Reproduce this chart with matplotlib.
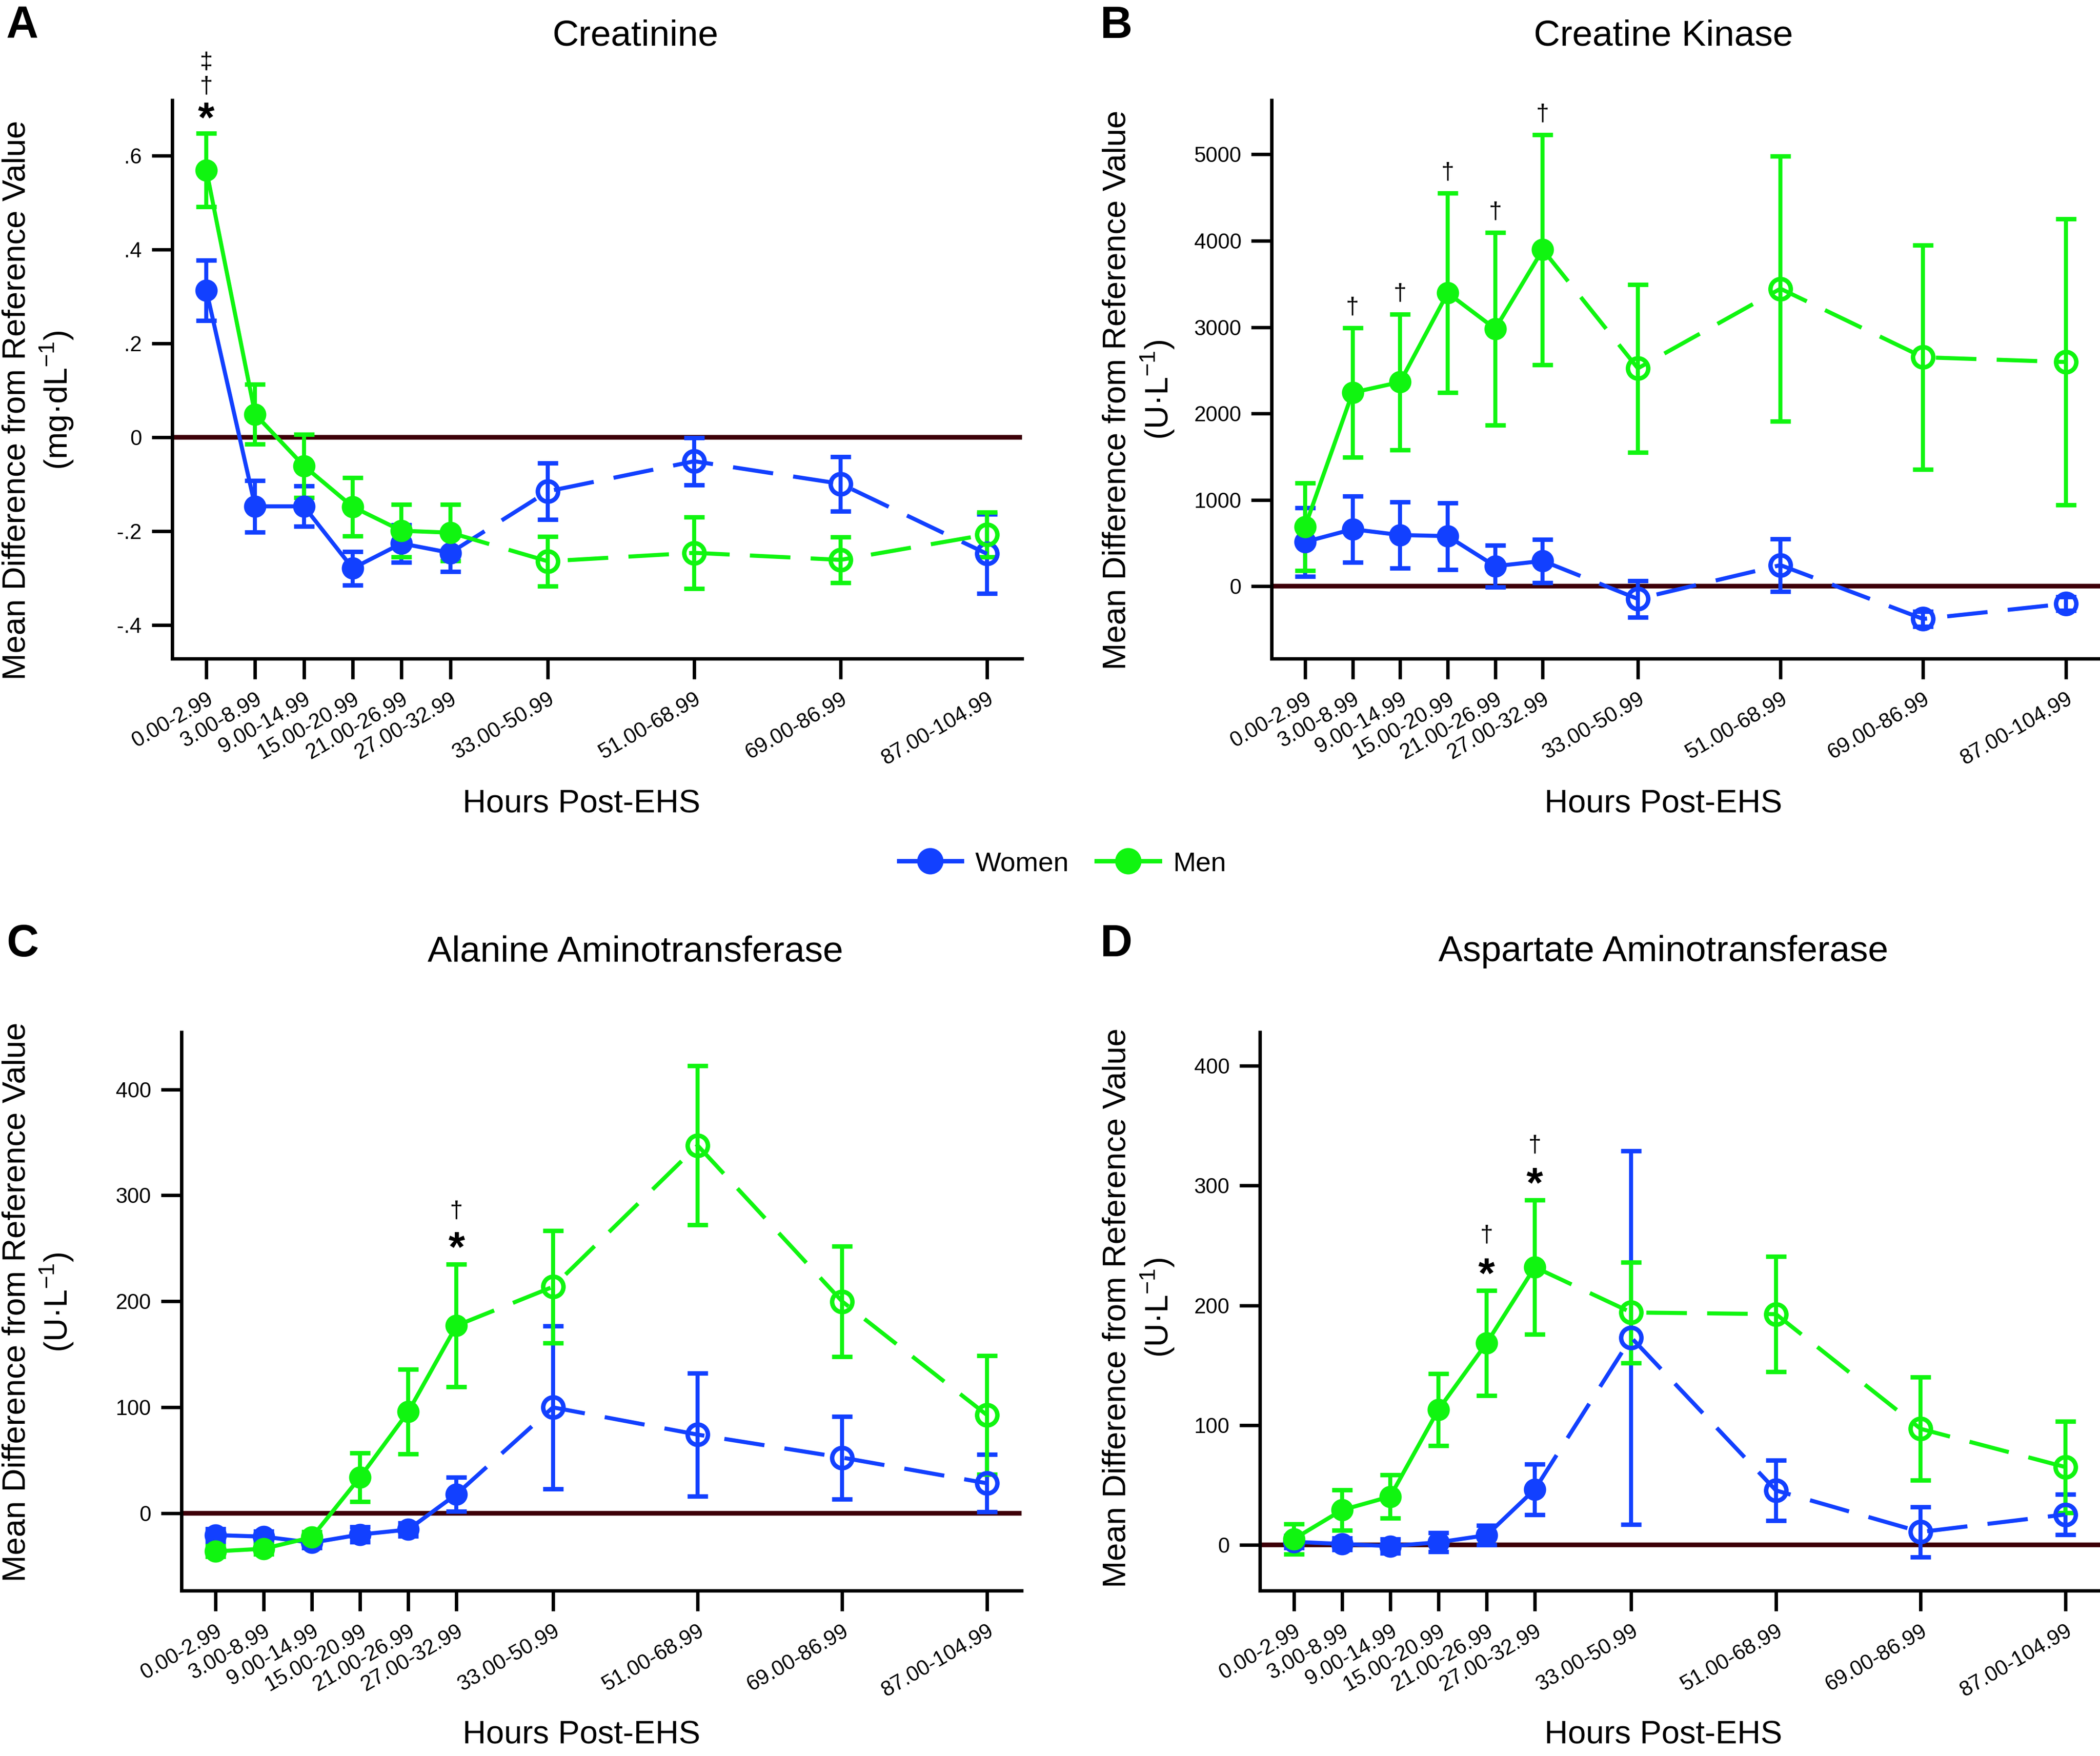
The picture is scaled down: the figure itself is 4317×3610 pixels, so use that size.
import matplotlib
matplotlib.use("Agg")
import matplotlib.pyplot as plt
from matplotlib.lines import Line2D

plt.rcParams['font.family'] = ['Liberation Sans', 'DejaVu Sans']
plt.rcParams['mathtext.fontset'] = 'custom'
plt.rcParams['mathtext.rm'] = 'Liberation Sans'

#categories
hours = ['0.00-2.99', '3.00-8.99', '9.00-14.99', '15.00-20.99', '21.00-26.99',
         '27.00-32.99', '33.00-50.99', '51.00-68.99', '69.00-86.99', '87.00-104.99']
xpos = [0, 1, 2, 3, 4, 5, 7, 10, 13, 16]

#creatinine (mg/dL)
crea_w    = [0.313, -0.147, -0.147, -0.279, -0.226, -0.246, -0.115, -0.051, -0.099, -0.248]
crea_w_se = [0.064, 0.055, 0.043, 0.036, 0.040, 0.040, 0.060, 0.050, 0.058, 0.084]
crea_m    = [0.569, 0.049, -0.061, -0.148, -0.199, -0.203, -0.264, -0.246, -0.261, -0.207]
crea_m_se = [0.078, 0.064, 0.067, 0.062, 0.056, 0.060, 0.053, 0.076, 0.049, 0.048]

#creatine kinase (U/L)
ck_w    = [513, 660, 593, 580, 232, 293, -147, 244, -379, -202]
ck_w_se = [397, 382, 382, 385, 244, 250, 210, 305, 86, 77]
ck_m    = [690, 2242, 2364, 3396, 2981, 3897, 2523, 3445, 2651, 2596]
ck_m_se = [507, 751, 788, 1155, 1115, 1331, 971, 1533, 1301, 1655]

#alanine aminotransferase (U/L)
alt_w    = [-20.6, -22.1, -27.8, -20.1, -15.4, 18.0, 99.9, 74.2, 52.5, 28.3]
alt_w_se = [6, 5, 5, 7, 6, 16, 77, 58, 39, 27]
alt_m    = [-36.0, -33.5, -22.7, 34.0, 95.8, 177.1, 213.7, 347.1, 199.8, 92.7]
alt_m_se = [5, 5, 5, 23, 40, 58, 53, 75, 52, 56]

#aspartate aminotransferase (U/L)
ast_w    = [2.7, 0.9, -0.9, 2.3, 8.2, 46.5, 173.1, 45.6, 10.9, 25.5]
ast_w_se = [5, 5, 6, 8, 8, 21, 156, 25, 21, 17]
ast_m    = [5.0, 29.2, 40.5, 113.0, 168.6, 231.9, 194.1, 192.7, 97.0, 65.1]
ast_m_se = [12.5, 17, 18, 30, 44, 56, 42, 48, 43, 38]

#significance marks (index, symbols)
crea_sig = [(0, '*†‡')]
ck_sig = [(1, '†'), (2, '†'), (3, '†'), (4, '†'), (5, '†')]
alt_sig = [(5, '*†')]
ast_sig = [(4, '*†'), (5, '*†')]

BLUE = '#1240ff'
GREEN = '#10f510'
ZERO = '#3d0008'

fig = plt.figure(figsize=(4317/300, 3610/300), dpi=300)

def panel(rect, w, w_se, m, m_se, ylim, yticks, ylabels, title, unit, sig,
          letter, letter_xy, title_xy, ylab_x, ylab_y, xlab_xy, star_off, dag_off):
    ax = fig.add_axes(rect)
    ax.axhline(0, color=ZERO, lw=2.3, zorder=1)
    for mean, se, col in ((w, w_se, BLUE), (m, m_se, GREEN)):
        ax.errorbar(xpos, mean, yerr=se, fmt='none', ecolor=col, elinewidth=2,
                    capsize=5, capthick=2.2, zorder=2)
        ax.plot(xpos[:6], mean[:6], '-', color=col, lw=2, marker='o', ms=10, zorder=3)
        ax.plot(xpos[5:], mean[5:], color=col, lw=2, dashes=(10, 5), zorder=3)
        ax.plot(xpos[6:], mean[6:], 'o', color=col, ms=10, mfc='none', mew=2.2, zorder=3)
    for i, syms in sig:
        top = m[i] + m_se[i]
        for k, s in enumerate(syms):
            if s == '*':
                ax.annotate('*', (xpos[i], top), xytext=(0, star_off), textcoords='offset points',
                            ha='center', va='baseline', fontsize=21, fontweight='bold',
                            annotation_clip=False)
            else:
                off = dag_off + (k - (1 if syms[0] == '*' else 0)) * 12
                ax.annotate(s, (xpos[i], top), xytext=(0, off), textcoords='offset points',
                            ha='center', va='baseline', fontsize=11.5, annotation_clip=False)
    ax.set_xlim(-0.7, 16.72)
    ax.set_ylim(*ylim)
    ax.set_yticks(yticks)
    ax.set_yticklabels(ylabels, fontsize=10.5)
    ax.set_xticks(xpos)
    ax.set_xticklabels(hours, fontsize=10.5, rotation=30, ha='right', va='top',
                       rotation_mode='anchor')
    for s in ['top', 'right']:
        ax.spines[s].set_visible(False)
    for s in ['left', 'bottom']:
        ax.spines[s].set_linewidth(1.7)
    ax.tick_params(direction='out', length=10, width=1.7, pad=5)
    fig.text(title_xy[0], title_xy[1], title, ha='center', va='center', fontsize=18)
    fig.text(xlab_xy[0], xlab_xy[1], 'Hours Post-EHS', ha='center', va='center', fontsize=16)
    fig.text(ylab_x, ylab_y, 'Mean Difference from Reference Value', rotation=90,
             ha='center', va='center', fontsize=16)
    fig.text(ylab_x + 0.0192, ylab_y, unit, rotation=90, ha='center', va='center', fontsize=16)
    fig.text(letter_xy[0], letter_xy[1], letter, ha='left', va='top', fontsize=22,
             fontweight='bold')
    return ax

panel([0.082, 0.625, 0.4047, 0.318], crea_w, crea_w_se, crea_m, crea_m_se,
      (-0.471, 0.718), [-0.4, -0.2, 0, 0.2, 0.4, 0.6], ['-.4', '-.2', '0', '.2', '.4', '.6'],
      'Creatinine', '(mg·dL$^{-1}$)', crea_sig, 'A', (0.003, 0.997), (0.3025, 0.9796),
      0.0079, 0.772, (0.277, 0.542), 1, 20)
panel([0.6056, 0.625, 0.3944, 0.318], ck_w, ck_w_se, ck_m, ck_m_se,
      (-837, 5629), [0, 1000, 2000, 3000, 4000, 5000],
      ['0', '1000', '2000', '3000', '4000', '5000'],
      'Creatine Kinase', '(U·L$^{-1}$)', ck_sig, 'B', (0.524, 0.997), (0.792, 0.9796),
      0.532, 0.778, (0.792, 0.542), 1, 7)
panel([0.0865, 0.0942, 0.400, 0.318], alt_w, alt_w_se, alt_m, alt_m_se,
      (-73, 454), [0, 100, 200, 300, 400], ['0', '100', '200', '300', '400'],
      'Alanine Aminotransferase', '(U·L$^{-1}$)', alt_sig, 'C', (0.003, 0.474), (0.3025, 0.458),
      0.0079, 0.2584, (0.277, 0.0118), 1.5, 23)
panel([0.600, 0.0942, 0.400, 0.318], ast_w, ast_w_se, ast_m, ast_m_se,
      (-38, 428), [0, 100, 200, 300, 400], ['0', '100', '200', '300', '400'],
      'Aspartate Aminotransferase', '(U·L$^{-1}$)', ast_sig, 'D', (0.524, 0.474), (0.792, 0.458),
      0.532, 0.2553, (0.792, 0.0118), 1.5, 24)

handles = [Line2D([], [], color=BLUE, lw=2.2, marker='o', ms=12),
           Line2D([], [], color=GREEN, lw=2.2, marker='o', ms=12)]
fig.legend(handles, ['Women', 'Men'], loc='center', bbox_to_anchor=(0.506, 0.508), ncol=2,
           frameon=False, fontsize=13.5, handlelength=2.3, handletextpad=0.5,
           columnspacing=1.0)

fig.savefig('out.png', dpi=300)
